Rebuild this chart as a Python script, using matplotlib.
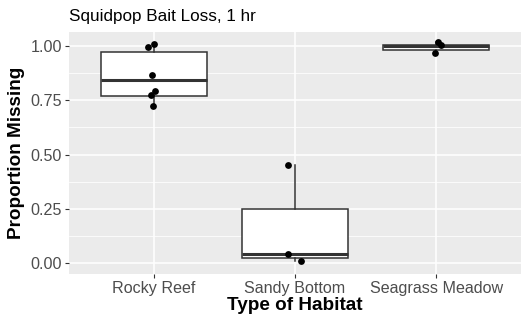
"""Squidpop bait loss after 1 hr, by habitat"""
import matplotlib
matplotlib.use("Agg")
from matplotlib import pyplot as plt
from matplotlib.ticker import MultipleLocator, FormatStrFormatter

plt.rcParams['font.family'] = ['Liberation Sans', 'DejaVu Sans']

# data
habitats = ['Rocky Reef', 'Sandy Bottom', 'Seagrass Meadow']
q1 = [0.77, 0.025, 0.980]
med = [0.843, 0.043, 0.998]
q3 = [0.970, 0.250, 1.003]
whislo = [0.725, 0.009, 0.968]
whishi = [1.009, 0.454, 1.018]

# jittered observations (x offset from category centre, proportion missing)
pts_x = [[-0.04, 0.00, -0.01, -0.02, 0.01, -0.005],
         [-0.05, -0.05, 0.04],
         [0.01, 0.035, -0.01]]
pts_y = [[0.995, 1.009, 0.867, 0.775, 0.794, 0.725],
         [0.454, 0.042, 0.009],
         [1.018, 1.005, 0.968]]

fig = plt.figure(figsize=(5.28, 3.24), dpi=100)
ax = fig.add_axes([0.1307, 0.1543, 0.8560, 0.7469])
ax.set_facecolor('#EBEBEB')

stats = []
for i in range(len(habitats)):
    stats.append({'q1': q1[i], 'med': med[i], 'q3': q3[i],
                  'whislo': whislo[i], 'whishi': whishi[i], 'fliers': []})

ax.bxp(stats, positions=[1, 2, 3], widths=0.75, patch_artist=True,
       showcaps=False, zorder=3,
       boxprops=dict(facecolor='white', edgecolor='#333333', linewidth=1.1),
       whiskerprops=dict(color='#333333', linewidth=1.1),
       medianprops=dict(color='#333333', linewidth=2.2))

for i in range(len(habitats)):
    xs = [i + 1 + dx for dx in pts_x[i]]
    ax.scatter(xs, pts_y[i], s=24, color='black', zorder=4, linewidths=0)

ax.set_xlim(0.4, 3.6)
ax.set_ylim(-0.05, 1.064)
ax.set_xticks([1, 2, 3])
ax.set_xticklabels(habitats)
ax.yaxis.set_major_locator(MultipleLocator(0.25))
ax.yaxis.set_minor_locator(MultipleLocator(0.125))
ax.yaxis.set_major_formatter(FormatStrFormatter('%.2f'))

ax.grid(which='major', color='white', linewidth=1.1, zorder=0)
ax.grid(which='minor', axis='y', color='white', linewidth=0.55, zorder=0)
ax.set_axisbelow(True)
for s in ax.spines.values():
    s.set_visible(False)

ax.tick_params(which='major', length=3, width=0.8, color='#333333',
               labelsize=11.6, labelcolor='#4D4D4D', pad=2)
ax.tick_params(which='minor', length=0)

ax.set_xlabel('Type of Habitat', fontsize=13.6, fontweight='bold', labelpad=1)
ax.set_ylabel('Proportion Missing', fontsize=13.6, fontweight='bold', labelpad=4)
ax.set_title('Squidpop Bait Loss, 1 hr', fontsize=12.3, loc='left', pad=8)

plt.savefig('out.png', dpi=100)
plt.close()
